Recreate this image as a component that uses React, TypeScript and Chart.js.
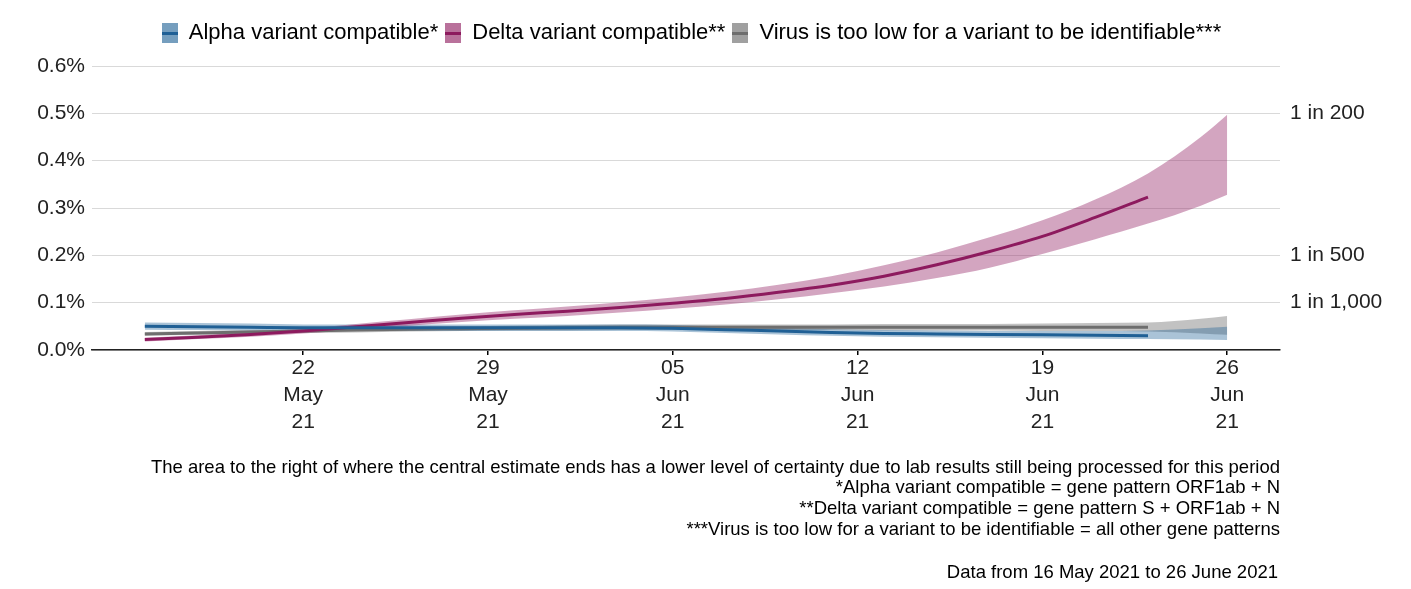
import React, { useEffect, useRef } from 'react';
import { Chart, registerables } from 'chart.js';

Chart.register(...registerables);

// Days since 16 May 2021
const days = [0, 2, 4, 6, 8, 10, 12, 14, 16, 18, 20, 22, 24, 26, 28, 30, 32, 34, 36, 38, 40, 41];

const alphaCentral = [0.050, 0.049, 0.048, 0.047, 0.047, 0.047, 0.047, 0.047, 0.047, 0.047, 0.046, 0.043, 0.040, 0.037, 0.035, 0.034, 0.033, 0.032, 0.031, 0.030, null, null];
const alphaLower = [0.043, 0.042, 0.041, 0.040, 0.040, 0.040, 0.040, 0.040, 0.040, 0.040, 0.039, 0.036, 0.033, 0.030, 0.028, 0.027, 0.026, 0.025, 0.024, 0.023, 0.022, 0.021];
const alphaUpper = [0.058, 0.057, 0.056, 0.054, 0.054, 0.054, 0.054, 0.054, 0.054, 0.054, 0.053, 0.050, 0.047, 0.044, 0.042, 0.041, 0.040, 0.040, 0.040, 0.041, 0.046, 0.049];

const deltaCentral = [0.022, 0.027, 0.033, 0.040, 0.049, 0.058, 0.067, 0.075, 0.082, 0.090, 0.099, 0.109, 0.122, 0.137, 0.156, 0.180, 0.208, 0.240, 0.280, 0.323, null, null];
const deltaLower = [0.018, 0.023, 0.028, 0.035, 0.043, 0.051, 0.059, 0.066, 0.072, 0.079, 0.087, 0.096, 0.107, 0.120, 0.134, 0.152, 0.174, 0.203, 0.234, 0.267, 0.305, 0.328];
const deltaUpper = [0.026, 0.031, 0.038, 0.045, 0.055, 0.065, 0.075, 0.084, 0.092, 0.101, 0.111, 0.123, 0.138, 0.156, 0.179, 0.206, 0.238, 0.274, 0.318, 0.373, 0.450, 0.497];

const grayCentral = [0.034, 0.036, 0.038, 0.040, 0.042, 0.044, 0.045, 0.046, 0.047, 0.048, 0.048, 0.048, 0.048, 0.048, 0.048, 0.048, 0.048, 0.048, 0.048, 0.048, null, null];
const grayLower = [0.030, 0.032, 0.034, 0.036, 0.037, 0.039, 0.040, 0.041, 0.041, 0.042, 0.042, 0.042, 0.042, 0.042, 0.041, 0.041, 0.041, 0.040, 0.040, 0.039, 0.035, 0.032];
const grayUpper = [0.038, 0.040, 0.042, 0.044, 0.047, 0.049, 0.050, 0.051, 0.053, 0.054, 0.054, 0.054, 0.054, 0.054, 0.055, 0.055, 0.055, 0.056, 0.057, 0.058, 0.066, 0.072];

const seriesNames = [
  'Alpha variant compatible*',
  'Delta variant compatible**',
  'Virus is too low for a variant to be identifiable***',
];

const xTickDays = [6, 13, 20, 27, 34, 41];
const xTickLabels = [
  ['22', 'May', '21'],
  ['29', 'May', '21'],
  ['05', 'Jun', '21'],
  ['12', 'Jun', '21'],
  ['19', 'Jun', '21'],
  ['26', 'Jun', '21'],
];
const yTickValues = [0, 0.1, 0.2, 0.3, 0.4, 0.5, 0.6];
const rightTickValues = [0.1, 0.2, 0.5];
const rightTickLabels = ['1 in 1,000', '1 in 500', '1 in 200'];

const captionLines = [
  'The area to the right of where the central estimate ends has a lower level of certainty due to lab results still being processed for this period',
  '*Alpha variant compatible = gene pattern ORF1ab + N',
  '**Delta variant compatible = gene pattern S + ORF1ab + N',
  '***Virus is too low for a variant to be identifiable = all other gene patterns',
];
const sourceLine = 'Data from 16 May 2021 to 26 June 2021';

const FONT = '"Liberation Sans", Arial, Helvetica, sans-serif';

const ALPHA_LINE = '#206095';
const ALPHA_BAND = 'rgba(32, 96, 149, 0.38)';
const DELTA_LINE = '#8d1a5e';
const DELTA_BAND = 'rgba(150, 40, 105, 0.42)';
const GRAY_LINE = '#6e6e6e';
const GRAY_BAND = 'rgba(120, 120, 120, 0.45)';

function legendIcon(band: string, line: string): HTMLCanvasElement {
  const c = document.createElement('canvas');
  c.width = 16;
  c.height = 20;
  const g = c.getContext('2d')!;
  g.fillStyle = '#ffffff';
  g.fillRect(0, 0, 16, 20);
  g.fillStyle = band;
  g.fillRect(0, 0, 16, 20);
  g.fillRect(0, 0, 16, 20);
  g.fillStyle = line;
  g.fillRect(0, 9, 16, 3);
  return c;
}

const legendSpacer = {
  id: 'legendSpacer',
  beforeLayout(chart: any) {
    const legend = chart.legend;
    if (legend && !legend._patched) {
      const orig = legend.fit;
      legend.fit = function () {
        orig.call(this);
        this.height = 51;
      };
      legend._patched = true;
    }
  },
  afterLayout(chart: any) {
    const legend = chart.legend;
    if (legend) {
      legend.left -= 7;
      legend.right -= 7;
    }
  },
};

const captionPlugin = {
  id: 'captionPlugin',
  afterDraw(chart: any) {
    const { ctx, chartArea } = chart;
    ctx.save();
    ctx.fillStyle = '#000';
    ctx.textAlign = 'right';
    ctx.textBaseline = 'middle';
    ctx.font = `18.5px ${FONT}`;
    captionLines.forEach((t, i) => {
      ctx.fillText(t, chartArea.right, chartArea.bottom + 117.5 + i * 20.7);
    });
    ctx.fillText(sourceLine, chartArea.right - 2, chartArea.bottom + 223);
    ctx.restore();
  },
};

export default function App() {
  const ref = useRef<HTMLCanvasElement | null>(null);

  useEffect(() => {
    if (!ref.current) return;
    const pts = (arr: (number | null)[]) => arr.map((v, i) => ({ x: days[i], y: v }));

    const lineDs = (label: string, data: (number | null)[], color: string, band: string) => ({
      label,
      data: pts(data),
      borderColor: color,
      backgroundColor: band,
      borderWidth: 3,
      pointRadius: 0,
      fill: false,
      cubicInterpolationMode: 'monotone' as const,
      spanGaps: false,
      pointStyle: legendIcon(band, color),
    });
    const bandLower = (data: number[]) => ({
      label: '',
      data: pts(data),
      borderWidth: 0,
      borderColor: 'transparent',
      pointRadius: 0,
      fill: false,
      cubicInterpolationMode: 'monotone' as const,
    });
    const bandUpper = (data: number[], color: string) => ({
      label: '',
      data: pts(data),
      borderWidth: 0,
      borderColor: 'transparent',
      backgroundColor: color,
      pointRadius: 0,
      fill: '-1',
      cubicInterpolationMode: 'monotone' as const,
    });

    const chart = new Chart(ref.current, {
      type: 'line',
      data: {
        datasets: [
          lineDs(seriesNames[0], alphaCentral, ALPHA_LINE, ALPHA_BAND),
          lineDs(seriesNames[1], deltaCentral, DELTA_LINE, DELTA_BAND),
          lineDs(seriesNames[2], grayCentral, GRAY_LINE, GRAY_BAND),
          bandLower(deltaLower),
          bandUpper(deltaUpper, DELTA_BAND),
          bandLower(alphaLower),
          bandUpper(alphaUpper, ALPHA_BAND),
          bandLower(grayLower),
          bandUpper(grayUpper, GRAY_BAND),
        ] as any,
      },
      options: {
        animation: false,
        responsive: true,
        maintainAspectRatio: false,
        layout: { padding: { top: 15, bottom: 146, left: 0, right: 0 } },
        plugins: {
          legend: {
            display: true,
            position: 'top',
            labels: {
              filter: (item: any) => item.datasetIndex < 3,
              usePointStyle: true,
              pointStyleWidth: 16,
              font: { size: 22, family: FONT },
              color: '#000',
              padding: 7,
              boxHeight: 20,
            },
          },
          tooltip: { enabled: false },
          title: { display: false },
        },
        scales: {
          x: {
            type: 'linear',
            min: -2,
            max: 43,
            afterBuildTicks: (axis: any) => {
              axis.ticks = xTickDays.map((v) => ({ value: v }));
            },
            afterFit: (axis: any) => {
              axis.height = 90;
            },
            ticks: {
              autoSkip: false,
              maxRotation: 0,
              padding: 0,
              color: '#222',
              font: { size: 21, family: FONT, lineHeight: 1.286 },
              callback: (v: any) => {
                const i = xTickDays.indexOf(Number(v));
                return i >= 0 ? xTickLabels[i] : '';
              },
            },
            grid: {
              display: true,
              drawOnChartArea: false,
              drawTicks: true,
              tickLength: 5,
              color: '#000',
              lineWidth: 1.5,
            },
            border: { display: true, color: '#222', width: 1.5 },
          },
          y: {
            position: 'left',
            min: 0,
            max: 0.6,
            afterBuildTicks: (axis: any) => {
              axis.ticks = yTickValues.map((v) => ({ value: v }));
            },
            afterFit: (axis: any) => {
              axis.width = 92;
            },
            ticks: {
              padding: 7,
              color: '#222',
              font: { size: 21, family: FONT },
              callback: (v: any) => Number(v).toFixed(1) + '%',
            },
            grid: { color: '#d9d9d9', lineWidth: 1, drawTicks: false },
            border: { display: false },
          },
          y2: {
            position: 'right',
            min: 0,
            max: 0.6,
            afterBuildTicks: (axis: any) => {
              axis.ticks = rightTickValues.map((v) => ({ value: v }));
            },
            afterFit: (axis: any) => {
              axis.width = 117;
            },
            ticks: {
              padding: 10,
              color: '#222',
              font: { size: 21, family: FONT },
              callback: (v: any) => {
                const i = rightTickValues.indexOf(Number(v));
                return i >= 0 ? rightTickLabels[i] : '';
              },
            },
            grid: { display: false, drawTicks: false },
            border: { display: false },
          },
        },
      } as any,
      plugins: [legendSpacer, captionPlugin],
    });
    return () => chart.destroy();
  }, []);

  return (
    <div style={{ position: 'absolute', left: 0, top: 0, width: 1397, height: 586, background: '#fff' }}>
      <canvas ref={ref} />
    </div>
  );
}
